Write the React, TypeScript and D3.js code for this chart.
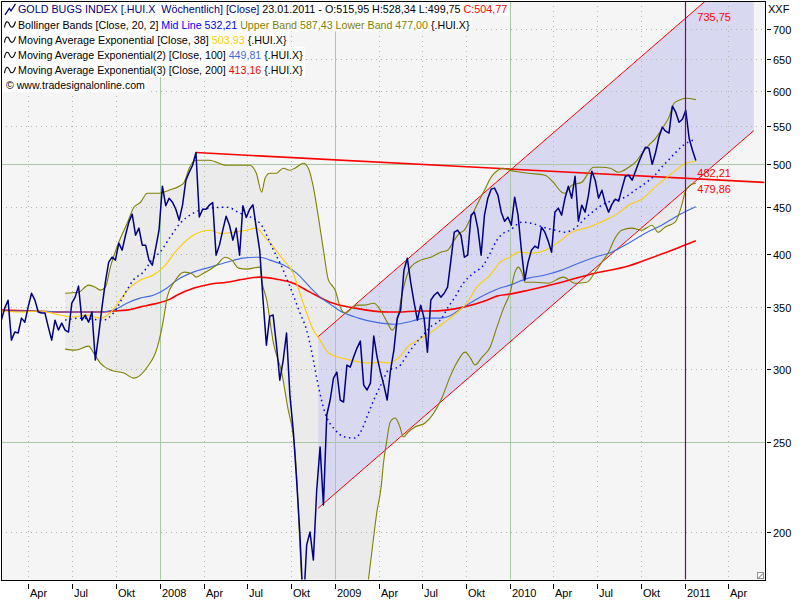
import React, { useEffect, useRef } from 'react';
import * as d3 from 'd3';

// ---------- DATA ----------
// Weekly closes of GOLD BUGS INDEX (.HUI.X), first week 04.02.2007, last 23.01.2011
const firstWeek = Date.UTC(2007, 1, 4);
const closes: number[] = [
  339.1, 349.4, 356.4, 322.6, 329.2, 328.4, 340.8, 337.4, 350.5, 362.6,
  356.4, 346.0, 345.2, 345.2, 333.3, 322.6, 339.1, 330.8, 336.6, 330.8,
  329.2, 353.7, 359.1, 369.1, 339.1, 343.4, 337.4, 346.0, 307.0, 326.7,
  350.3, 372.7, 391.8, 396.7, 393.8, 410.8, 403.7, 419.0, 432.9, 441.6,
  419.0, 426.5, 408.8, 408.8, 393.8, 388.9, 405.7, 424.3, 473.5, 451.0,
  459.5, 455.0, 447.0, 435.0, 451.6, 480.6, 490.2, 498.9, 514.9, 438.6,
  447.0, 447.0, 451.6, 454.5, 398.7, 408.8, 424.3, 439.4, 429.6, 413.9,
  426.5, 398.7, 451.0, 438.0, 447.0, 452.0, 426.5, 403.7, 356.4, 318.6,
  342.5, 343.4, 318.6, 292.0, 306.8, 328.4, 281.3, 257.8, 227.7, 198.5,
  165.0, 193.6, 200.0, 186.5, 222.1, 247.2, 213.9, 267.7, 277.9, 293.5,
  297.9, 277.9, 276.5, 303.2, 301.7, 309.3, 316.3, 321.8, 288.4, 284.9,
  289.8, 325.9, 309.3, 297.9, 288.4, 277.9, 299.4, 314.7, 340.8, 347.7,
  384.1, 395.7, 372.7, 354.6, 339.1, 352.0, 340.8, 313.1, 356.4, 360.8,
  363.5, 359.1, 362.6, 368.1, 393.8, 422.2, 424.3, 419.0, 396.7, 398.7,
  440.5, 443.8, 426.5, 398.7, 440.5, 459.5, 470.0, 471.2, 463.0, 443.8,
  433.9, 438.3, 429.6, 460.7, 440.5, 403.7, 374.6, 391.8, 403.7, 407.8,
  405.7, 427.5, 422.2, 412.9, 401.7, 443.8, 448.3, 440.5, 459.5, 473.5,
  459.5, 485.4, 433.9, 451.6, 443.8, 463.0, 491.5, 480.6, 459.5, 468.8,
  453.9, 443.8, 452.8, 458.4, 456.2, 471.2, 485.4, 486.6, 480.6, 491.5,
  502.6, 512.8, 521.8, 520.5, 500.0, 514.9, 534.9, 548.4, 543.0, 540.3,
  577.9, 569.3, 555.3, 559.4, 572.1, 533.6, 517.9, 504.77,
];
const lastOpen = 515.95;
const lastHigh = 528.34;
const lastLow = 499.75;

// Indicator readings: [week index, value]
const bbUpper: [number, number][] = [
  [19, 362.6], [23, 363.5], [26, 370.0], [28, 368.1], [29.5, 365.4], [31, 368.1], [32.5, 387.0],
  [35, 411.8], [37.5, 431.7], [39.5, 449.3], [41.5, 454.9], [43.5, 465.3], [47, 465.3], [50, 468.8],
  [53, 473.5], [54.5, 478.2], [56, 495.2], [58, 505.1], [62, 505.1], [67, 498.8], [74, 498.8],
  [76, 489.0], [77.6, 466.5], [78.6, 483.0], [80, 489.0], [82, 489.0], [84, 495.2], [86, 492.7],
  [87.5, 495.2], [90, 501.3], [91.5, 495.2], [93, 472.3], [94.5, 438.3], [96, 403.7], [97.5, 374.6],
  [98.5, 370.0], [99.5, 365.4], [101, 350.3], [102.5, 345.2], [104.5, 349.4], [106, 352.0],
  [108, 352.0], [111, 353.7], [113, 347.7], [115, 337.4], [116.5, 330.8], [118, 339.1], [119.5, 362.7],
  [122, 387.0], [125, 393.8], [128, 396.7], [131, 401.7], [133, 403.7], [135, 413.9], [136.5, 421.0],
  [138, 424.3], [140, 438.3], [142, 453.7], [144, 468.8], [146, 484.3], [148, 492.7], [149.5, 495.2],
  [151.5, 492.7], [157, 489.0], [162, 486.6], [164.5, 478.2], [167, 466.5], [168, 465.3], [170, 474.7],
  [173, 478.2], [176.5, 496.4], [179, 496.4], [181.5, 495.2], [184, 490.2], [187, 496.4], [189, 502.6],
  [191, 514.1], [193, 524.4], [195, 533.5], [197, 547.0], [199, 562.4], [200.5, 582.2], [202, 586.6],
  [204, 589.5], [207, 587.43],
];
const bbLower: [number, number][] = [
  [19, 315.5], [22, 314.7], [26, 317.8], [27.5, 312.4], [29.5, 304.7], [32.5, 299.4], [36.5, 297.2],
  [39.5, 293.5], [43.5, 301.7], [46.5, 317.1], [48.3, 339.1], [49.5, 360.0], [51.5, 372.7],
  [54.5, 382.2], [57, 380.3], [58, 377.5], [60.3, 381.2], [64.2, 389.0], [66.7, 396.7], [68.7, 393.8],
  [70.7, 386.0], [73.1, 385.1], [77.1, 387.0], [77.6, 374.6], [79.1, 356.4], [81.1, 320.2],
  [83.6, 297.2], [85.5, 271.1], [86.6, 259.8], [87.5, 245.4], [88.2, 223.8], [88.8, 199.5],
  [89.5, 177.5], [90.5, 150.0], [92, 125.0], [95, 105.0], [100, 95.0], [104, 110.0], [107, 145.0],
  [109.4, 177.5], [110.4, 190.0], [111.9, 209.9], [113.2, 223.8], [113.9, 237.5], [114.9, 251.5],
  [115.9, 263.1], [117.4, 265.7], [118.8, 259.8], [119.8, 253.4], [121.3, 256.6], [123.3, 259.8],
  [126.3, 262.4], [131.3, 279.3], [133.7, 294.2], [135.7, 304.7], [138.2, 313.1], [139.7, 309.1],
  [141.2, 303.2], [143.2, 309.1], [145.7, 317.1], [147.7, 333.2], [149.7, 349.4], [151.6, 362.7],
  [153.1, 382.2], [154.1, 387.0], [155.1, 382.2], [156.1, 372.7], [159.1, 372.7], [163.0, 371.8],
  [167.5, 377.5], [171.0, 371.8], [174.5, 372.7], [177.0, 382.2], [179.0, 391.8], [181.0, 401.7],
  [182.9, 415.9], [184.9, 424.3], [187.9, 426.5], [190.9, 424.3], [193.9, 429.6], [195.8, 422.0],
  [197.8, 427.5], [200.8, 432.9], [202.8, 451.6], [203.8, 466.5], [205.3, 474.7], [207, 477.0],
];
const bbMid: [number, number][] = [
  [19, 339.1], [23.5, 340.8], [30.4, 339.1], [33.4, 345.2], [37.4, 365.4], [39.3, 374.6],
  [42.3, 382.2], [45.3, 395.8], [47.3, 401.7], [50.3, 417.0], [53.3, 431.7], [57.2, 442.7],
  [62.2, 448.3], [67.2, 449.3], [71.1, 442.7], [77.1, 431.7], [79.1, 418.9], [81.1, 403.7],
  [83.1, 390.8], [86.1, 368.1], [89.0, 345.2], [91.0, 330.8], [93.0, 307.0], [94.0, 293.5],
  [96.5, 269.0], [99.5, 257.9], [102.4, 253.4], [105.4, 252.8], [107.4, 257.9], [109.4, 269.0],
  [111.4, 280.0], [113.4, 289.8], [115.4, 299.4], [118.3, 301.7], [121.3, 312.4], [124.3, 322.6],
  [126.3, 328.4], [127.8, 333.2], [130.8, 339.1], [133.2, 350.3], [135.2, 359.1], [137.7, 371.8],
  [140.7, 381.2], [143.7, 389.0], [145.7, 400.8], [147.7, 413.9], [149.6, 421.0], [151.6, 424.3],
  [155.1, 432.9], [158.1, 431.7], [161.5, 427.5], [165.0, 424.3], [168.0, 422.2], [171.0, 426.5],
  [174.0, 437.2], [176.9, 446.0], [179.9, 453.7], [182.9, 457.2], [185.9, 460.7], [188.9, 468.8],
  [191.9, 477.0], [194.8, 486.6], [196.8, 496.4], [198.8, 505.1], [200.8, 514.1], [203.3, 524.4],
  [207, 532.21],
];
const ema38: [number, number][] = [
  [0, 346.9], [5.6, 346.0], [11.5, 346.9], [17.5, 343.4], [21.5, 341.7], [25.5, 343.4], [29.4, 340.8],
  [32.4, 345.2], [35.4, 356.4], [38.4, 368.1], [41.3, 374.6], [45.3, 379.4], [48.3, 387.0],
  [52.3, 403.7], [57.2, 418.9], [62.2, 424.3], [65.2, 421.0], [69.1, 422.2], [73.1, 424.3],
  [76.1, 426.5], [78.1, 418.9], [81.1, 406.8], [84.1, 393.8], [87.0, 381.2], [89.0, 362.6],
  [91.0, 345.2], [93.0, 330.8], [95.0, 322.6], [97.5, 312.4], [101.5, 308.5], [105.4, 306.2],
  [109.4, 304.7], [113.4, 305.4], [115.4, 304.7], [118.3, 308.5], [121.3, 317.8], [124.3, 322.6],
  [126.8, 326.7], [131.7, 336.5], [135.7, 345.2], [138.7, 353.7], [141.7, 368.1], [145.7, 379.4],
  [148.7, 391.8], [151.6, 396.7], [154.1, 401.7], [158.1, 400.8], [162.1, 403.7], [166.0, 411.8],
  [170.0, 422.2], [175.0, 427.5], [179.9, 435.0], [183.9, 442.7], [186.9, 451.6], [190.9, 458.4],
  [194.8, 472.3], [198.8, 485.4], [201.8, 495.0], [203.9, 501.3], [207, 503.93],
];
const ema100: [number, number][] = [
  [0, 346.9], [9.5, 346.9], [19.5, 346.0], [25.5, 346.0], [29.4, 346.0], [33.4, 347.7], [37.4, 353.7],
  [41.3, 358.2], [45.3, 360.8], [49.3, 367.2], [52.3, 374.6], [57.2, 382.2], [62.2, 387.0],
  [67.2, 391.8], [72.1, 395.8], [77.1, 396.7], [80.1, 393.8], [84.1, 389.0], [88.0, 381.2],
  [92.0, 368.1], [95.0, 359.1], [98.0, 352.9], [100.5, 347.7], [106.4, 340.8], [111.4, 337.4],
  [117.4, 335.7], [122.3, 338.2], [126.3, 340.8], [131.0, 340.8], [132.8, 341.7], [137.7, 350.3],
  [142.7, 359.1], [147.7, 366.3], [151.6, 370.0], [157.1, 376.5], [162.1, 379.4], [167.0, 384.1],
  [172.0, 390.8], [176.9, 396.7], [181.9, 401.7], [186.9, 410.8], [191.9, 421.0], [196.8, 429.6],
  [201.8, 440.5], [207, 449.81],
];
const ema200: [number, number][] = [
  [0, 347.7], [9.5, 346.9], [19.5, 346.0], [29.4, 346.0], [33.4, 346.9], [37.4, 347.7], [41.3, 350.3],
  [45.3, 352.9], [50.3, 357.3], [52.3, 360.8], [57.2, 367.2], [62.2, 370.9], [67.2, 372.7],
  [72.1, 375.5], [77.1, 377.5], [82.1, 375.5], [87.0, 371.8], [92.0, 363.6], [98.0, 354.6],
  [105.4, 349.4], [115.4, 346.0], [118.0, 346.0], [124.8, 346.9], [127.8, 346.9], [137.7, 350.3],
  [144.7, 356.4], [147.7, 360.0], [151.6, 361.8], [157.1, 365.4], [167.0, 372.7], [176.9, 381.2],
  [186.9, 388.0], [190.4, 392.0], [197.0, 400.0], [203.8, 409.0], [207, 413.16],
];

// Trend channel (log-linear) and resistance line
const channelDates = [Date.UTC(2008, 10, 26), Date.UTC(2011, 4, 24)];
const channelLower = [212.2, 543.9];
const channelUpper = [325.4, 834.0];
const channelLabelUpper = 735.75;
const channelLabelLower = 479.86;
const resistDates = [Date.UTC(2008, 2, 16), Date.UTC(2011, 5, 16)];
const resistValues = [514.9, 477.9];
const resistLabel = 482.21;
const markerDate = Date.UTC(2011, 0, 1);

// Axis ticks
const yTicks = [200, 250, 300, 350, 400, 450, 500, 550, 600, 650, 700];
const ySolid = [250, 500];
const monthNames: Record<number, string> = { 3: 'Apr', 6: 'Jul', 9: 'Okt' };

const FONT = '"Liberation Sans", Arial, sans-serif';
const C = {
  navy: '#000080', olive: '#808000', blue: '#0000ff', gold: '#ffcc00',
  royal: '#4169e1', red: '#ff0000', purple: '#800080',
  plotBg: '#f5f5f5', bbFill: '#ebebeb', chFill: '#d8d8f0',
  gridDot: '#a8b8a8', gridSolid: '#a8c8a8',
};

const fmt = (v: number) => d3.format('.2f')(v).replace('.', ',');

export default function App() {
  const ref = useRef<SVGSVGElement>(null);

  useEffect(() => {
    const svg = d3.select(ref.current!);
    svg.selectAll('*').remove();

    const L = 1, T = 1, R = 765, B = 580;
    const xs = d3.scaleUtc()
      .domain([new Date(Date.UTC(2008, 0, 1)), new Date(Date.UTC(2011, 0, 1))])
      .range([160, 685.3]);
    const ys = d3.scaleLog().domain([200, 700]).range([532, 29.3]);
    const wk = (i: number) => new Date(firstWeek + i * 7 * 864e5);

    svg.append('rect').attr('width', 800).attr('height', 600).attr('fill', '#fff');
    svg.append('rect').attr('x', L).attr('y', T).attr('width', R - L).attr('height', B - T).attr('fill', C.plotBg);

    const defs = svg.append('defs');
    defs.append('clipPath').attr('id', 'plotclip')
      .append('rect').attr('x', L + 0.5).attr('y', T + 0.5).attr('width', R - L - 1).attr('height', B - T - 1);

    const g = svg.append('g').attr('clip-path', 'url(#plotclip)');

    const line = d3.line<[number, number]>()
      .x((d) => xs(wk(d[0])))
      .y((d) => ys(d[1]))
      .curve(d3.curveMonotoneX);

    // Bollinger fill
    const up = line(bbUpper)!;
    const lowRev = line(bbLower.slice().reverse())!;
    g.append('path').attr('d', up + 'L' + lowRev.slice(1) + 'Z').attr('fill', C.bbFill);

    // Channel fill
    const cx0 = xs(new Date(channelDates[0])), cx1 = xs(new Date(channelDates[1]));
    g.append('path')
      .attr('d', `M${cx0},${ys(channelUpper[0])}L${cx1},${ys(channelUpper[1])}L${cx1},${ys(channelLower[1])}L${cx0},${ys(channelLower[0])}Z`)
      .attr('fill', C.chFill);

    // Grid
    const qTicks = d3.utcMonth.every(3)!.range(new Date(Date.UTC(2007, 3, 1)), new Date(Date.UTC(2011, 4, 1)));
    qTicks.forEach((d) => {
      const xx = Math.round(xs(d)) + 0.5;
      const isYear = d.getUTCMonth() === 0;
      g.append('line').attr('x1', xx).attr('x2', xx).attr('y1', T).attr('y2', B)
        .attr('stroke', isYear ? C.gridSolid : C.gridDot)
        .attr('stroke-dasharray', isYear ? null : '1,4')
        .attr('shape-rendering', 'crispEdges');
    });
    yTicks.forEach((v) => {
      const yy = Math.round(ys(v)) + 0.5;
      const solid = ySolid.includes(v);
      g.append('line').attr('x1', L).attr('x2', R).attr('y1', yy).attr('y2', yy)
        .attr('stroke', solid ? C.gridSolid : C.gridDot)
        .attr('stroke-dasharray', solid ? null : '1,4')
        .attr('shape-rendering', 'crispEdges');
    });

    // Channel lines
    [channelUpper, channelLower].forEach((vals) => {
      g.append('line').attr('x1', cx0).attr('y1', ys(vals[0])).attr('x2', cx1).attr('y2', ys(vals[1]))
        .attr('stroke', C.red).attr('stroke-width', 1);
    });
    // Resistance line
    g.append('line')
      .attr('x1', xs(new Date(resistDates[0]))).attr('y1', ys(resistValues[0]))
      .attr('x2', xs(new Date(resistDates[1]))).attr('y2', ys(resistValues[1]))
      .attr('stroke', C.red).attr('stroke-width', 1.6);

    const drawLine = (data: [number, number][], color: string, width: number, dash?: string) => {
      g.append('path').attr('d', line(data)!).attr('fill', 'none')
        .attr('stroke', color).attr('stroke-width', width)
        .attr('stroke-dasharray', dash ?? null);
    };
    drawLine(ema200, C.red, 1.6);
    drawLine(ema100, C.royal, 1.1);
    drawLine(ema38, C.gold, 1.1);
    drawLine(bbUpper, C.olive, 1.1);
    drawLine(bbLower, C.olive, 1.1);
    drawLine(bbMid, C.blue, 1.5, '1.5,3.5');

    // Price
    const priceLine = d3.line<number>().x((_, i) => xs(wk(i))).y((d) => ys(d));
    g.append('path').attr('d', priceLine(closes)!).attr('fill', 'none')
      .attr('stroke', C.navy).attr('stroke-width', 1.5).attr('stroke-linejoin', 'round');

    // Marker line
    const mx = Math.round(xs(new Date(markerDate))) + 0.5;
    g.append('line').attr('x1', mx).attr('x2', mx).attr('y1', T).attr('y2', B)
      .attr('stroke', C.purple).attr('stroke-width', 1.2);

    // Right axis
    yTicks.forEach((v) => {
      const yy = Math.round(ys(v)) + 0.5;
      svg.append('line').attr('x1', 767).attr('x2', 771).attr('y1', yy).attr('y2', yy)
        .attr('stroke', '#000').attr('shape-rendering', 'crispEdges');
      svg.append('text').attr('x', 773).attr('y', yy + 4).attr('font-family', FONT).attr('font-size', 11)
        .attr('fill', '#000').text(String(v));
    });
    svg.append('text').attr('x', 768).attr('y', 12.5).attr('font-family', FONT).attr('font-size', 11)
      .attr('fill', '#000').text('XXF');

    // Bottom axis
    qTicks.forEach((d) => {
      const xx = Math.round(xs(d)) + 0.5;
      const m = d.getUTCMonth();
      svg.append('line').attr('x1', xx).attr('x2', xx).attr('y1', 584).attr('y2', 589)
        .attr('stroke', '#000').attr('shape-rendering', 'crispEdges');
      svg.append('text').attr('x', xx + 1.5).attr('y', 597).attr('font-family', FONT).attr('font-size', 11)
        .attr('fill', '#000').text(m === 0 ? String(d.getUTCFullYear()) : monthNames[m]);
    });

    // Value labels at last bar
    const lx = xs(wk(closes.length - 1)) + 1.5;
    const vlab = (v: number, dy: number) =>
      svg.append('text').attr('x', lx).attr('y', ys(v) + dy).attr('font-family', FONT).attr('font-size', 11)
        .attr('fill', C.red).text(fmt(v));
    vlab(channelLabelUpper, 11.3);
    vlab(resistLabel, -1.4);
    vlab(channelLabelLower, 11.7);

    // Legend
    const last = (a: [number, number][]) => a[a.length - 1][1];
    const rows: { parts: [string, string][]; icon: 'chart' | 'wave' | 'none'; x: number; w: number }[] = [
      { icon: 'chart', x: 18, w: 489, parts: [
        ['GOLD BUGS INDEX [.HUI.X  Wöchentlich] [Close] ', C.navy],
        [`23.01.2011 - O:${fmt(lastOpen)} H:${fmt(lastHigh)} L:${fmt(lastLow)} `, '#000'],
        [`C:${fmt(closes[closes.length - 1])}`, C.red],
      ] },
      { icon: 'wave', x: 18, w: 452, parts: [
        ['Bollinger Bands [Close, 20, 2] ', '#000'],
        [`Mid Line ${fmt(last(bbMid))} `, C.blue],
        [`Upper Band ${fmt(last(bbUpper))} Lower Band ${fmt(last(bbLower))} `, C.olive],
        ['{.HUI.X}', '#000'],
      ] },
      { icon: 'wave', x: 18, w: 269, parts: [
        ['Moving Average Exponential [Close, 38] ', '#000'], [`${fmt(last(ema38))} `, C.gold], ['{.HUI.X}', '#000'],
      ] },
      { icon: 'wave', x: 18, w: 285, parts: [
        ['Moving Average Exponential(2) [Close, 100] ', '#000'], [`${fmt(last(ema100))} `, C.royal], ['{.HUI.X}', '#000'],
      ] },
      { icon: 'wave', x: 18, w: 285, parts: [
        ['Moving Average Exponential(3) [Close, 200] ', '#000'], [`${fmt(last(ema200))} `, C.red], ['{.HUI.X}', '#000'],
      ] },
      { icon: 'none', x: 6, w: 139, parts: [['© www.tradesignalonline.com', '#000']] },
    ];
    rows.forEach((r, k) => {
      const base = 13.3 + 15.2 * k;
      const grp = svg.append('g');
      const rect = grp.append('rect');
      const t = grp.append('text').attr('x', r.x).attr('y', base).attr('font-family', FONT)
        .attr('font-size', 11).attr('xml:space', 'preserve').style('white-space', 'pre');
      r.parts.forEach(([s, col]) => t.append('tspan').attr('fill', col).text(s));
      const natural = (t.node() as SVGTextElement).getComputedTextLength();
      const fs = Math.min(11.5, Math.max(10, 11 * r.w / natural));
      t.attr('font-size', fs.toFixed(2));
      const top = Math.max(2, base - 12.3);
      rect.attr('x', 2).attr('y', top).attr('width', r.x + r.w + 2 - 2).attr('height', base + 2.9 - top)
        .attr('fill', '#fff');
      if (r.icon === 'chart') {
        grp.append('path').attr('d', `M5,${base + 1.5}L9.3,${base - 5}L11,${base - 2.5}L15.5,${base - 9.5}`)
          .attr('fill', 'none').attr('stroke', C.navy).attr('stroke-width', 1.3);
      } else if (r.icon === 'wave') {
        const c = base - 4;
        grp.append('path')
          .attr('d', `M4.5,${c + 3}C5.5,${c - 4} 8,${c - 4} 9.5,${c}S13.5,${c + 4} 15.5,${c - 3}`)
          .attr('fill', 'none').attr('stroke', '#000').attr('stroke-width', 1.1);
      }
    });

    // Frame (drawn last so it stays visible above legend boxes)
    svg.append('rect').attr('x', L + 0.5).attr('y', T + 0.5).attr('width', R - L).attr('height', B - T)
      .attr('fill', 'none').attr('stroke', '#000').attr('shape-rendering', 'crispEdges');
    svg.append('rect').attr('x', R - 7.5).attr('y', B - 7.5).attr('width', 6).attr('height', 6)
      .attr('fill', '#fff').attr('stroke', '#909090').attr('shape-rendering', 'crispEdges');
    svg.append('line').attr('x1', R - 6.5).attr('y1', B - 2).attr('x2', R - 2).attr('y2', B - 6.5)
      .attr('stroke', '#606060');
  }, []);

  return (
    <svg ref={ref} width={800} height={600}
      style={{ position: 'absolute', left: 0, top: 0, display: 'block' }} />
  );
}
